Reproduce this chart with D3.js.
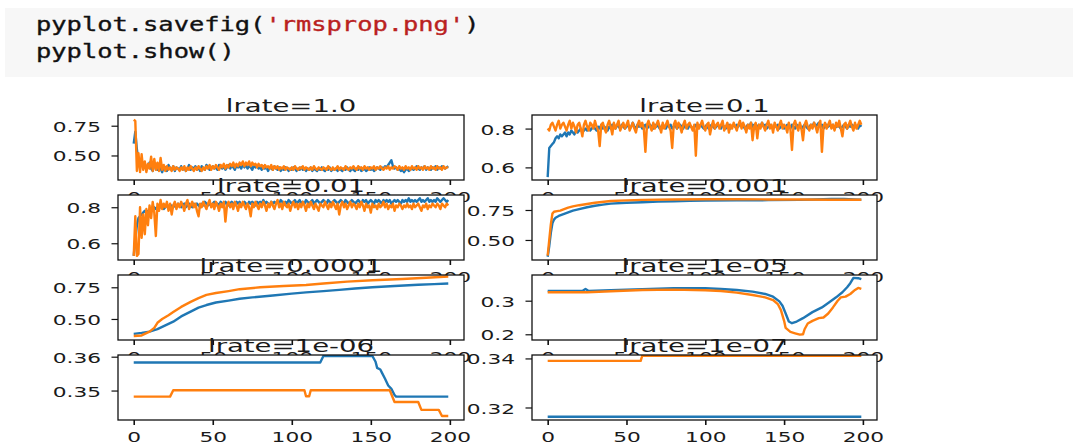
<!DOCTYPE html>
<html><head><meta charset="utf-8">
<script src="https://cdn.jsdelivr.net/npm/d3@7"></script>
<style>body{margin:0;background:#fff;} svg{display:block}</style>
</head><body>
<svg id="c" width="1073" height="445"></svg>
<script>
// ---------------- DATA ----------------
const titles = ["lrate=1.0","lrate=0.1","lrate=0.01","lrate=0.001","lrate=0.0001","lrate=1e-05","lrate=1e-06","lrate=1e-07"];
const xTicks = [0,50,100,150,200];
const yTickSets = [[0.50,0.75],[0.6,0.8],[0.6,0.8],[0.50,0.75],[0.50,0.75],[0.2,0.3],[0.35,0.36],[0.32,0.34]];
const yTickFormats = [".2f",".1f",".1f",".2f",".2f",".1f",".2f",".2f"];

// lrate=1.0 (one value per epoch 0..199)
const lr1Train = [
0.60,0.70,0.55,0.45,0.42,0.44,0.40,0.43,0.38,0.41,
0.44,0.39,0.37,0.42,0.40,0.38,0.43,0.39,0.36,0.41,
0.40,0.37,0.42,0.39,0.38,0.41,0.37,0.40,0.39,0.38,
0.41,0.38,0.40,0.37,0.39,0.42,0.38,0.40,0.39,0.41,
0.38,0.40,0.37,0.41,0.39,0.38,0.42,0.40,0.38,0.39,
0.41,0.39,0.40,0.38,0.42,0.40,0.39,0.41,0.38,0.40,
0.42,0.39,0.41,0.40,0.38,0.42,0.40,0.41,0.39,0.43,
0.40,0.42,0.39,0.41,0.40,0.38,0.42,0.40,0.41,0.39,
0.40,0.38,0.41,0.39,0.40,0.37,0.40,0.39,0.38,0.41,
0.39,0.38,0.40,0.37,0.39,0.38,0.40,0.39,0.37,0.39,
0.38,0.40,0.39,0.37,0.39,0.38,0.40,0.38,0.39,0.37,
0.39,0.38,0.40,0.37,0.39,0.38,0.37,0.39,0.38,0.40,
0.38,0.37,0.39,0.38,0.40,0.37,0.39,0.38,0.39,0.37,
0.39,0.38,0.37,0.39,0.38,0.40,0.38,0.37,0.39,0.38,
0.37,0.39,0.38,0.40,0.37,0.38,0.39,0.37,0.38,0.40,
0.38,0.39,0.37,0.38,0.40,0.39,0.38,0.40,0.39,0.41,
0.40,0.42,0.44,0.46,0.41,0.39,0.40,0.38,0.39,0.37,
0.38,0.36,0.38,0.39,0.37,0.38,0.40,0.38,0.39,0.41,
0.39,0.38,0.40,0.39,0.41,0.38,0.40,0.39,0.38,0.40,
0.39,0.41,0.38,0.40,0.39,0.41,0.40,0.39,0.40,0.41];
const lr1Test = [
0.80,0.79,0.37,0.52,0.36,0.51,0.38,0.45,0.36,0.43,
0.39,0.49,0.37,0.47,0.38,0.44,0.37,0.48,0.38,0.42,
0.37,0.41,0.38,0.40,0.37,0.41,0.38,0.40,0.39,0.37,
0.40,0.38,0.41,0.37,0.40,0.38,0.41,0.39,0.37,0.40,
0.38,0.41,0.39,0.37,0.40,0.38,0.41,0.39,0.42,0.38,
0.41,0.39,0.42,0.40,0.38,0.42,0.40,0.43,0.39,0.42,
0.40,0.43,0.41,0.44,0.40,0.43,0.41,0.44,0.42,0.45,
0.41,0.44,0.42,0.45,0.41,0.44,0.42,0.43,0.40,0.43,
0.41,0.42,0.39,0.42,0.40,0.41,0.39,0.42,0.38,0.41,
0.39,0.41,0.38,0.40,0.39,0.41,0.38,0.40,0.39,0.38,
0.40,0.38,0.41,0.39,0.38,0.40,0.39,0.41,0.38,0.40,
0.39,0.38,0.40,0.38,0.41,0.39,0.38,0.40,0.39,0.38,
0.40,0.39,0.38,0.41,0.39,0.38,0.40,0.38,0.39,0.41,
0.38,0.40,0.39,0.38,0.41,0.39,0.38,0.40,0.39,0.41,
0.39,0.38,0.41,0.39,0.40,0.38,0.41,0.39,0.40,0.38,
0.40,0.39,0.41,0.38,0.40,0.39,0.41,0.39,0.38,0.40,
0.39,0.41,0.38,0.40,0.39,0.41,0.40,0.38,0.41,0.39,
0.40,0.38,0.41,0.39,0.40,0.38,0.41,0.39,0.40,0.38,
0.41,0.39,0.40,0.38,0.41,0.39,0.40,0.38,0.41,0.39,
0.40,0.38,0.41,0.39,0.40,0.38,0.41,0.39,0.40,0.40];

// lrate=0.1
const lr01Train = [
0.55,0.70,0.71,0.72,0.73,0.75,0.76,0.75,0.77,0.76,
0.77,0.78,0.76,0.78,0.77,0.79,0.78,0.77,0.79,0.78,
0.79,0.80,0.78,0.79,0.80,0.79,0.81,0.79,0.80,0.81,
0.80,0.79,0.81,0.80,0.82,0.80,0.81,0.80,0.79,0.81,
0.80,0.82,0.81,0.80,0.82,0.81,0.80,0.82,0.81,0.80,
0.81,0.82,0.80,0.81,0.83,0.81,0.80,0.82,0.81,0.82,
0.80,0.81,0.82,0.80,0.81,0.82,0.81,0.80,0.82,0.81,
0.82,0.80,0.81,0.82,0.81,0.80,0.82,0.81,0.82,0.80,
0.81,0.82,0.80,0.81,0.82,0.81,0.80,0.82,0.81,0.80,
0.82,0.81,0.80,0.81,0.82,0.80,0.81,0.82,0.81,0.80,
0.81,0.82,0.80,0.81,0.82,0.81,0.80,0.81,0.82,0.81,
0.80,0.82,0.81,0.80,0.81,0.82,0.80,0.81,0.82,0.81,
0.82,0.81,0.83,0.81,0.82,0.80,0.81,0.82,0.81,0.83,
0.81,0.82,0.80,0.81,0.82,0.81,0.83,0.81,0.82,0.80,
0.81,0.82,0.81,0.80,0.82,0.81,0.82,0.80,0.81,0.82,
0.80,0.81,0.82,0.81,0.80,0.82,0.81,0.80,0.82,0.81,
0.82,0.80,0.81,0.82,0.81,0.80,0.81,0.82,0.81,0.83,
0.81,0.82,0.83,0.81,0.82,0.80,0.81,0.82,0.81,0.82,
0.81,0.82,0.80,0.81,0.82,0.81,0.80,0.81,0.82,0.81,
0.80,0.82,0.81,0.82,0.81,0.82,0.81,0.80,0.82,0.81];
const lr01Test = [
0.80,0.79,0.82,0.83,0.81,0.79,0.82,0.84,0.80,0.82,
0.83,0.81,0.79,0.82,0.84,0.80,0.83,0.81,0.78,0.82,
0.83,0.80,0.76,0.82,0.84,0.81,0.79,0.83,0.82,0.80,
0.84,0.81,0.79,0.71,0.82,0.83,0.80,0.78,0.82,0.84,
0.81,0.77,0.83,0.80,0.82,0.84,0.79,0.81,0.83,0.80,
0.82,0.84,0.79,0.81,0.83,0.80,0.78,0.82,0.84,0.81,
0.83,0.80,0.68,0.82,0.84,0.81,0.79,0.83,0.80,0.82,
0.84,0.81,0.78,0.83,0.80,0.82,0.84,0.81,0.79,0.70,
0.82,0.84,0.80,0.83,0.81,0.78,0.82,0.84,0.80,0.82,
0.83,0.81,0.79,0.82,0.66,0.83,0.80,0.82,0.84,0.81,
0.79,0.82,0.83,0.77,0.81,0.84,0.80,0.82,0.83,0.80,
0.82,0.84,0.79,0.81,0.83,0.78,0.82,0.80,0.83,0.81,
0.79,0.82,0.84,0.80,0.83,0.81,0.78,0.82,0.80,0.83,
0.74,0.81,0.83,0.75,0.82,0.80,0.83,0.81,0.79,0.82,
0.84,0.80,0.82,0.78,0.83,0.81,0.79,0.82,0.84,0.80,
0.82,0.81,0.78,0.83,0.80,0.69,0.82,0.84,0.81,0.79,
0.83,0.80,0.74,0.82,0.84,0.81,0.79,0.82,0.80,0.83,
0.81,0.78,0.82,0.84,0.68,0.81,0.83,0.80,0.82,0.84,
0.80,0.82,0.79,0.83,0.81,0.84,0.80,0.76,0.82,0.83,
0.80,0.82,0.84,0.81,0.79,0.83,0.80,0.82,0.84,0.82];

// lrate=0.01
const lr001Train = [
0.53,0.62,0.70,0.74,0.75,0.76,0.77,0.78,0.77,0.78,
0.78,0.79,0.78,0.80,0.79,0.80,0.79,0.81,0.80,0.79,
0.80,0.81,0.80,0.79,0.81,0.80,0.81,0.80,0.82,0.81,
0.80,0.81,0.82,0.80,0.81,0.82,0.81,0.80,0.82,0.81,
0.82,0.81,0.80,0.82,0.81,0.83,0.82,0.81,0.82,0.81,
0.82,0.83,0.81,0.82,0.81,0.83,0.82,0.81,0.83,0.82,
0.81,0.82,0.83,0.82,0.81,0.83,0.82,0.83,0.81,0.82,
0.83,0.82,0.81,0.83,0.82,0.83,0.82,0.81,0.83,0.82,
0.83,0.82,0.84,0.82,0.83,0.82,0.81,0.83,0.82,0.83,
0.82,0.83,0.82,0.84,0.83,0.82,0.83,0.82,0.84,0.83,
0.82,0.83,0.84,0.82,0.83,0.84,0.82,0.83,0.82,0.84,
0.83,0.82,0.83,0.84,0.82,0.83,0.84,0.83,0.82,0.83,
0.84,0.83,0.82,0.84,0.83,0.82,0.83,0.84,0.83,0.82,
0.83,0.84,0.83,0.82,0.84,0.83,0.82,0.83,0.84,0.83,
0.82,0.83,0.84,0.83,0.82,0.84,0.83,0.84,0.82,0.83,
0.84,0.83,0.82,0.84,0.83,0.84,0.83,0.82,0.84,0.83,
0.84,0.83,0.84,0.82,0.83,0.84,0.83,0.84,0.83,0.82,
0.84,0.83,0.84,0.83,0.85,0.83,0.84,0.83,0.84,0.83,
0.84,0.85,0.83,0.84,0.83,0.84,0.85,0.83,0.84,0.83,
0.84,0.83,0.85,0.84,0.83,0.84,0.85,0.84,0.83,0.84];
const lr001Test = [
0.53,0.75,0.53,0.54,0.80,0.63,0.76,0.65,0.79,0.70,
0.81,0.74,0.83,0.77,0.64,0.82,0.78,0.84,0.79,0.82,
0.80,0.83,0.78,0.82,0.76,0.81,0.83,0.79,0.82,0.80,
0.83,0.81,0.78,0.82,0.84,0.79,0.81,0.83,0.80,0.82,
0.78,0.75,0.82,0.80,0.83,0.81,0.79,0.82,0.84,0.80,
0.82,0.79,0.83,0.81,0.78,0.82,0.80,0.83,0.72,0.81,
0.83,0.80,0.82,0.79,0.83,0.81,0.78,0.82,0.80,0.83,
0.81,0.79,0.82,0.80,0.75,0.82,0.80,0.83,0.81,0.79,
0.82,0.80,0.83,0.81,0.78,0.82,0.80,0.83,0.81,0.79,
0.82,0.84,0.80,0.82,0.79,0.83,0.81,0.80,0.82,0.78,
0.81,0.83,0.80,0.82,0.79,0.82,0.80,0.83,0.81,0.78,
0.82,0.80,0.83,0.81,0.79,0.82,0.80,0.78,0.82,0.81,
0.80,0.83,0.81,0.79,0.82,0.80,0.83,0.81,0.79,0.82,
0.76,0.81,0.83,0.80,0.82,0.79,0.81,0.83,0.80,0.82,
0.81,0.79,0.82,0.80,0.83,0.81,0.78,0.82,0.80,0.81,
0.77,0.82,0.80,0.81,0.79,0.82,0.80,0.81,0.83,0.80,
0.82,0.79,0.81,0.80,0.82,0.78,0.81,0.80,0.82,0.81,
0.79,0.81,0.80,0.82,0.80,0.81,0.79,0.82,0.80,0.81,
0.82,0.80,0.78,0.81,0.80,0.82,0.79,0.81,0.80,0.82,
0.81,0.80,0.82,0.81,0.79,0.82,0.81,0.80,0.82,0.81];

// smooth runs: [epoch, accuracy]
const lr0001Train = [[0,0.36],[1,0.45],[2,0.56],[3,0.64],[4,0.67],[5,0.685],[7,0.70],[10,0.715],[13,0.73],[16,0.745],[20,0.757],[25,0.773],[30,0.785],[35,0.795],[40,0.803],[50,0.81],[60,0.815],[70,0.82],[80,0.823],[90,0.826],[100,0.828],[120,0.83],[140,0.832],[160,0.834],[170,0.838],[180,0.842],[188,0.843],[194,0.838],[199,0.835]];
const lr0001Test = [[0,0.37],[1,0.50],[2,0.63],[3,0.72],[4,0.735],[6,0.74],[8,0.745],[10,0.755],[13,0.77],[16,0.78],[20,0.79],[25,0.80],[30,0.81],[40,0.825],[50,0.83],[60,0.834],[80,0.838],[100,0.84],[120,0.839],[140,0.838],[160,0.837],[180,0.836],[199,0.835]];

const lr00001Train = [[0,0.382],[5,0.39],[10,0.40],[15,0.42],[20,0.45],[25,0.479],[30,0.52],[36,0.558],[41,0.59],[46,0.61],[52,0.63],[60,0.645],[67,0.66],[75,0.67],[88,0.685],[100,0.70],[109,0.71],[120,0.72],[130,0.73],[140,0.74],[151,0.75],[165,0.76],[180,0.77],[190,0.775],[199,0.78]];
const lr00001Test = [[0,0.366],[5,0.37],[10,0.40],[13,0.43],[15,0.47],[18,0.50],[22,0.53],[25,0.555],[30,0.595],[36,0.635],[41,0.665],[46,0.69],[52,0.705],[60,0.72],[67,0.735],[80,0.75],[95,0.76],[109,0.768],[120,0.78],[135,0.795],[151,0.805],[170,0.815],[185,0.825],[199,0.835]];

const lr1e5Train = [[0,0.329],[22,0.329],[24,0.335],[26,0.329],[40,0.331],[60,0.334],[80,0.337],[100,0.337],[110,0.335],[120,0.332],[130,0.327],[138,0.32],[143,0.312],[147,0.298],[149,0.285],[151,0.262],[153,0.238],[155,0.233],[158,0.238],[162,0.248],[168,0.266],[174,0.28],[178,0.293],[183,0.31],[187,0.325],[190,0.34],[192,0.352],[194,0.368],[197,0.367],[199,0.364]];
const lr1e5Test = [[0,0.325],[25,0.325],[40,0.328],[60,0.332],[80,0.333],[100,0.331],[110,0.329],[120,0.324],[130,0.317],[138,0.31],[143,0.302],[146,0.29],[148,0.272],[150,0.24],[151,0.219],[154,0.207],[157,0.203],[160,0.199],[162,0.2],[163,0.215],[165,0.232],[168,0.24],[172,0.248],[175,0.25],[178,0.262],[181,0.28],[184,0.3],[186,0.31],[189,0.312],[192,0.32],[195,0.332],[197,0.338],[199,0.335]];

const lr1e6Train = [[0,0.3583],[118,0.3583],[120,0.3602],[151,0.3602],[153,0.3585],[154,0.3567],[156,0.3562],[157,0.3553],[159,0.3535],[161,0.3515],[163,0.3505],[165,0.3487],[166,0.3482],[199,0.3482]];
const lr1e6Test = [[0,0.3482],[23,0.3482],[25,0.3501],[108,0.3501],[109,0.3483],[111,0.3483],[112,0.3501],[162,0.3501],[165,0.3466],[180,0.3466],[182,0.3443],[193,0.3443],[195,0.3425],[199,0.3425]];

const lr1e7Train = [[0,0.3162],[199,0.3162]];
const lr1e7Test = [[0,0.339],[59,0.339],[60,0.3411],[199,0.3411]];

// ---------------- BUILD ----------------
const perEpoch = arr => arr.map((v,i)=>[i,v]);
const trainSeries = [perEpoch(lr1Train),perEpoch(lr01Train),perEpoch(lr001Train),lr0001Train,lr00001Train,lr1e5Train,lr1e6Train,lr1e7Train];
const testSeries  = [perEpoch(lr1Test),perEpoch(lr01Test),perEpoch(lr001Test),lr0001Test,lr00001Test,lr1e5Test,lr1e6Test,lr1e7Test];
const yDomains = [[0.294,0.84],[0.535,0.87],[0.507,0.868],[0.333,0.875],[0.334,0.847],[0.183,0.3765],[0.3413,0.3605],[0.3149,0.3414]];

const colLeft = [118,532], colWidth = [346,345];
const rowTop = [115,195,275,355], rowH = 65;
const SX = 1.55, TSX = 1.62;
const FONT = "DejaVu Sans, sans-serif";
const TXT = "#1a1a1a";

const svg = d3.select('#c');

// notebook code cell
svg.append('rect').attr('x',5).attr('y',8).attr('width',1068).attr('height',69).attr('fill','#f7f7f7');
const code = svg.append('g').attr('font-family','DejaVu Sans Mono, monospace').attr('font-size',20)
  .attr('stroke-width',0.35);
const l1 = code.append('text').attr('transform','translate(36,30.5) scale(1.27,1)');
l1.append('tspan').attr('fill','#111').attr('stroke','#111').text('pyplot.savefig(');
l1.append('tspan').attr('fill','#BA2121').attr('stroke','#BA2121').text("'rmsprop.png'");
l1.append('tspan').attr('fill','#111').attr('stroke','#111').text(')');
code.append('text').attr('transform','translate(36,57.5) scale(1.27,1)').attr('fill','#111').attr('stroke','#111').text('pyplot.show()');

titles.forEach((title,i)=>{
  const col=i%2, row=Math.floor(i/2);
  const L=colLeft[col], W=colWidth[col], T=rowTop[row], H=rowH;
  const x=d3.scaleLinear().domain([-9.95,208.95]).range([L,L+W]);
  const y=d3.scaleLinear().domain(yDomains[i]).range([T+H,T]);
  const g=svg.append('g');
  g.append('rect').attr('x',L).attr('y',T).attr('width',W).attr('height',H).attr('fill','#fff');
  const cid='clip'+i;
  g.append('clipPath').attr('id',cid).append('rect').attr('x',L).attr('y',T).attr('width',W).attr('height',H);
  const line=d3.line().x(d=>x(d[0])).y(d=>y(d[1]));
  [[trainSeries[i],'#1f77b4'],[testSeries[i],'#ff7f0e']].forEach(([data,c])=>{
    g.append('path').datum(data).attr('d',line).attr('fill','none').attr('stroke',c)
      .attr('stroke-width',2.4).attr('stroke-linejoin','round').attr('clip-path',`url(#${cid})`);
  });
  g.append('rect').attr('x',L).attr('y',T).attr('width',W).attr('height',H)
    .attr('fill','none').attr('stroke','#111').attr('stroke-width',1.3);

  const xa=g.append('g').attr('transform',`translate(0,${T+H})`)
    .call(d3.axisBottom(x).tickValues(xTicks).tickSize(5).tickSizeOuter(0).tickFormat(d3.format('d')));
  xa.select('.domain').remove();
  xa.attr('font-size',14).attr('font-family',FONT);
  xa.selectAll('line').attr('stroke','#111').attr('stroke-width',1.6);
  xa.selectAll('text').attr('y',22).attr('dy',null).attr('fill',TXT).attr('transform',`scale(${SX},1)`);

  const ya=g.append('g').attr('transform',`translate(${L},0)`)
    .call(d3.axisLeft(y).tickValues(yTickSets[i]).tickSize(6.5).tickSizeOuter(0).tickFormat(d3.format(yTickFormats[i])));
  ya.select('.domain').remove();
  ya.attr('font-size',14).attr('font-family',FONT);
  ya.selectAll('line').attr('stroke','#111').attr('stroke-width',1.2);
  ya.selectAll('text').attr('x',-17/SX).attr('y',5.5).attr('dy',null).attr('fill',TXT).attr('transform',`scale(${SX},1)`);

  g.append('text').attr('transform',`translate(${L+W/2},${T-3.5}) scale(${TSX},1)`)
    .attr('text-anchor','middle').attr('font-family',FONT).attr('font-size',17).attr('fill',TXT).text(title);
});
</script>
</body></html>
